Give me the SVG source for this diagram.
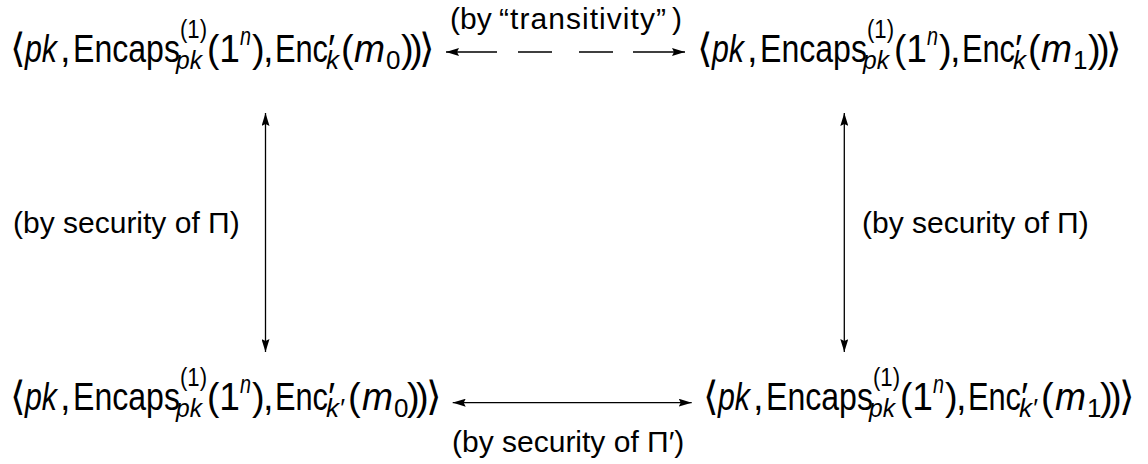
<svg xmlns="http://www.w3.org/2000/svg" width="1148" height="464" viewBox="0 0 1148 464">
<style>
text{font-family:"Liberation Sans","DejaVu Sans",sans-serif;fill:#000}
.m{font-size:38px}
.b{font-size:40px;font-family:"DejaVu Sans",sans-serif}
.i{font-style:italic}
.s{font-size:26px}
.l{font-size:30px}
.c{stroke:#000;stroke-width:1.3;fill:none}
</style>
<defs>
<marker id="ah" viewBox="0 0 13 8" refX="13" refY="4" markerWidth="13" markerHeight="8" markerUnits="userSpaceOnUse" orient="auto-start-reverse">
<path d="M0,0 L13,4 L0,8 L2,4 Z" fill="#000"/>
</marker>
</defs>
<rect width="1148" height="464" fill="#fff"/>
<g id="connectors">
<path class="c" d="M446,52 H497 M518,52 H552 M579,52 H613 M633,52 H685" marker-start="url(#ah)" marker-end="url(#ah)"/>
<path class="c" d="M452.7,402.7 H691.7" marker-start="url(#ah)" marker-end="url(#ah)"/>
<path class="c" d="M265.5,113 V352" marker-start="url(#ah)" marker-end="url(#ah)"/>
<path class="c" d="M844.3,113 V352" marker-start="url(#ah)" marker-end="url(#ah)"/>
</g>
<g id="label-top"><text class="l" y="29"><tspan x="450">(by</tspan><tspan x="499" textLength="167" lengthAdjust="spacing">“transitivity”</tspan><tspan x="672">)</tspan></text></g>
<g id="label-left"><text class="l" x="13" y="233">(by security of Π)</text></g>
<g id="label-right"><text class="l" x="862" y="233">(by security of Π)</text></g>
<g id="label-bottom"><text class="l" x="452" y="452">(by security of Π′)</text></g>
<g id="node-top-left" transform="translate(13,62)">
<text class="b" x="-3" y="0">⟨</text>
<text class="m i" x="12" y="0" textLength="32" lengthAdjust="spacingAndGlyphs">pk</text>
<text class="m" x="47" y="0">,</text>
<text class="m" x="60" y="0" textLength="107" lengthAdjust="spacingAndGlyphs">Encaps</text>
<text class="s" x="167" y="-24" textLength="27" lengthAdjust="spacingAndGlyphs">(1)</text>
<text class="s i" x="163" y="7" textLength="26" lengthAdjust="spacingAndGlyphs">pk</text>
<text class="m" x="194" y="0" textLength="33" lengthAdjust="spacingAndGlyphs">(1</text>
<text class="s i" x="227" y="-17" textLength="11" lengthAdjust="spacingAndGlyphs">n</text>
<text class="m" x="239" y="0">)</text>
<text class="m" x="250" y="0">,</text>
<text class="m" x="262" y="0" textLength="53" lengthAdjust="spacingAndGlyphs">Enc</text>
<text class="m" x="315" y="0">′</text>
<text class="s i" x="313" y="7">k</text>
<text class="m" x="328" y="0">(</text>
<text class="m i" x="341" y="0" textLength="31" lengthAdjust="spacingAndGlyphs">m</text>
<text class="s" x="373" y="7">0</text>
<text class="m" x="388" y="0">)</text>
<text class="m" x="397" y="0">)</text>
<text class="b" x="406" y="0">⟩</text>
</g>
<g id="node-top-right" transform="translate(700,62)">
<text class="b" x="-3" y="0">⟨</text>
<text class="m i" x="12" y="0" textLength="32" lengthAdjust="spacingAndGlyphs">pk</text>
<text class="m" x="47" y="0">,</text>
<text class="m" x="60" y="0" textLength="107" lengthAdjust="spacingAndGlyphs">Encaps</text>
<text class="s" x="167" y="-24" textLength="27" lengthAdjust="spacingAndGlyphs">(1)</text>
<text class="s i" x="163" y="7" textLength="26" lengthAdjust="spacingAndGlyphs">pk</text>
<text class="m" x="194" y="0" textLength="33" lengthAdjust="spacingAndGlyphs">(1</text>
<text class="s i" x="227" y="-17" textLength="11" lengthAdjust="spacingAndGlyphs">n</text>
<text class="m" x="239" y="0">)</text>
<text class="m" x="250" y="0">,</text>
<text class="m" x="262" y="0" textLength="53" lengthAdjust="spacingAndGlyphs">Enc</text>
<text class="m" x="315" y="0">′</text>
<text class="s i" x="313" y="7">k</text>
<text class="m" x="328" y="0">(</text>
<text class="m i" x="341" y="0" textLength="31" lengthAdjust="spacingAndGlyphs">m</text>
<text class="s" x="373" y="7">1</text>
<text class="m" x="388" y="0">)</text>
<text class="m" x="397" y="0">)</text>
<text class="b" x="406" y="0">⟩</text>
</g>
<g id="node-bottom-left" transform="translate(13,410)">
<text class="b" x="-3" y="0">⟨</text>
<text class="m i" x="12" y="0" textLength="32" lengthAdjust="spacingAndGlyphs">pk</text>
<text class="m" x="47" y="0">,</text>
<text class="m" x="60" y="0" textLength="107" lengthAdjust="spacingAndGlyphs">Encaps</text>
<text class="s" x="167" y="-24" textLength="27" lengthAdjust="spacingAndGlyphs">(1)</text>
<text class="s i" x="163" y="7" textLength="26" lengthAdjust="spacingAndGlyphs">pk</text>
<text class="m" x="194" y="0" textLength="33" lengthAdjust="spacingAndGlyphs">(1</text>
<text class="s i" x="227" y="-17" textLength="11" lengthAdjust="spacingAndGlyphs">n</text>
<text class="m" x="239" y="0">)</text>
<text class="m" x="250" y="0">,</text>
<text class="m" x="262" y="0" textLength="53" lengthAdjust="spacingAndGlyphs">Enc</text>
<text class="m" x="315" y="0">′</text>
<text class="s i" x="313" y="7">k′</text>
<text class="m" x="335" y="0">(</text>
<text class="m i" x="349" y="0" textLength="31" lengthAdjust="spacingAndGlyphs">m</text>
<text class="s" x="381" y="7">0</text>
<text class="m" x="394" y="0">)</text>
<text class="m" x="403" y="0">)</text>
<text class="b" x="413" y="0">⟩</text>
</g>
<g id="node-bottom-right" transform="translate(706,410)">
<text class="b" x="-3" y="0">⟨</text>
<text class="m i" x="12" y="0" textLength="32" lengthAdjust="spacingAndGlyphs">pk</text>
<text class="m" x="47" y="0">,</text>
<text class="m" x="60" y="0" textLength="107" lengthAdjust="spacingAndGlyphs">Encaps</text>
<text class="s" x="167" y="-24" textLength="27" lengthAdjust="spacingAndGlyphs">(1)</text>
<text class="s i" x="163" y="7" textLength="26" lengthAdjust="spacingAndGlyphs">pk</text>
<text class="m" x="194" y="0" textLength="33" lengthAdjust="spacingAndGlyphs">(1</text>
<text class="s i" x="227" y="-17" textLength="11" lengthAdjust="spacingAndGlyphs">n</text>
<text class="m" x="239" y="0">)</text>
<text class="m" x="250" y="0">,</text>
<text class="m" x="262" y="0" textLength="53" lengthAdjust="spacingAndGlyphs">Enc</text>
<text class="m" x="315" y="0">′</text>
<text class="s i" x="313" y="7">k′</text>
<text class="m" x="335" y="0">(</text>
<text class="m i" x="349" y="0" textLength="31" lengthAdjust="spacingAndGlyphs">m</text>
<text class="s" x="381" y="7">1</text>
<text class="m" x="394" y="0">)</text>
<text class="m" x="403" y="0">)</text>
<text class="b" x="413" y="0">⟩</text>
</g>
</svg>
